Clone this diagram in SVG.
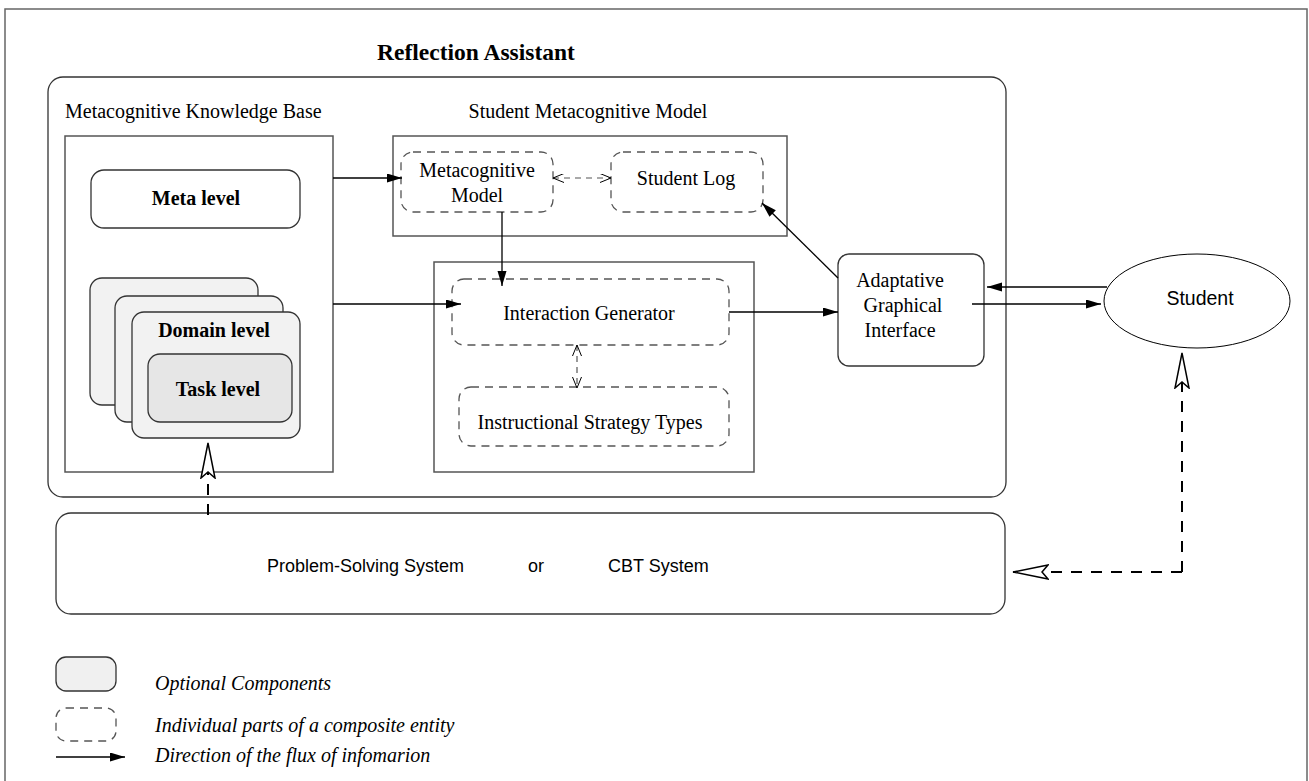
<svg xmlns="http://www.w3.org/2000/svg" width="1309" height="781" viewBox="0 0 1309 781">
<style>
.serif{font-family:"Liberation Serif","Times New Roman",serif;font-size:20px;fill:#000}
.bold{font-weight:bold}
.ital{font-style:italic}
.sans{font-family:"Liberation Sans",Arial,sans-serif;font-size:18px;fill:#000}
.box{fill:#fff;stroke:#555;stroke-width:1.5}
.rbox{fill:#fff;stroke:#333;stroke-width:1.3}
.opt{fill:#f2f2f2;stroke:#333;stroke-width:1.3}
.dbox{fill:none;stroke:#555;stroke-width:1.3;stroke-dasharray:8 6}
.arr{fill:none;stroke:#000;stroke-width:1.3}
.darr{fill:none;stroke:#555;stroke-width:1.2;stroke-dasharray:6 5}
.bigd{fill:none;stroke:#000;stroke-width:2;stroke-dasharray:11 9}
</style>
<defs>
<marker id="fa" markerUnits="userSpaceOnUse" markerWidth="16" markerHeight="10" refX="15" refY="4.5" orient="auto">
<path d="M0,0 L15,4.5 L0,9 z" fill="#000"/>
</marker>
<marker id="va" markerUnits="userSpaceOnUse" markerWidth="13" markerHeight="11" refX="11" refY="4.5" orient="auto">
<path d="M0,0 L11,4.5 L0,9" fill="none" stroke="#000" stroke-width="1"/>
</marker>
<marker id="vs" markerUnits="userSpaceOnUse" markerWidth="13" markerHeight="11" refX="0" refY="4.5" orient="auto">
<path d="M11,0 L0,4.5 L11,9" fill="none" stroke="#000" stroke-width="1"/>
</marker>
<marker id="ha" markerUnits="userSpaceOnUse" markerWidth="40" markerHeight="18" refX="36" refY="8" orient="auto">
<path d="M36,8 L1,1 L7,8 L1,15 z" fill="#fff" stroke="#000" stroke-width="1.5" stroke-linejoin="miter"/>
</marker>
</defs>
<rect x="5" y="9" width="1302" height="800" fill="#fff" stroke="#666" stroke-width="1.5"/>

<g id="reflection-assistant">
<rect x="48" y="77" width="958" height="420" rx="15" class="rbox"/>
<text x="476" y="60" text-anchor="middle" class="serif bold" style="font-size:23.5px">Reflection Assistant</text>
</g>

<g id="knowledge-base">
<text x="65" y="118" class="serif">Metacognitive Knowledge Base</text>
<rect x="65" y="136" width="268" height="336" class="box"/>
</g>

<g id="meta-level">
<rect x="91" y="170" width="209" height="58" rx="13" class="rbox"/>
<text x="196" y="205" text-anchor="middle" class="serif bold">Meta level</text>
</g>

<g id="domain-level">
<rect x="90" y="278" width="168" height="127" rx="12" class="opt"/>
<rect x="115" y="296" width="168" height="126" rx="12" class="opt"/>
<rect x="132" y="312" width="168" height="126" rx="12" class="opt"/>
<text x="214" y="337" text-anchor="middle" class="serif bold">Domain level</text>
</g>

<g id="task-level">
<rect x="148" y="354" width="144" height="68" rx="12" fill="#e6e6e6" stroke="#333" stroke-width="1.3"/>
<text x="218" y="396" text-anchor="middle" class="serif bold">Task level</text>
</g>

<g id="student-model">
<text x="588" y="118" text-anchor="middle" class="serif">Student Metacognitive Model</text>
<rect x="393" y="136" width="394" height="100" class="box"/>
</g>

<g id="metacognitive-model">
<rect x="401" y="152" width="152" height="60" rx="12" class="dbox"/>
<text x="477" y="177" text-anchor="middle" class="serif">Metacognitive</text>
<text x="477" y="202" text-anchor="middle" class="serif">Model</text>
</g>

<g id="student-log">
<rect x="611" y="152" width="152" height="60" rx="12" class="dbox"/>
<text x="686" y="185" text-anchor="middle" class="serif">Student Log</text>
</g>

<g id="generator-box">
<rect x="434" y="262" width="320" height="210" class="box"/>
</g>

<g id="interaction-generator">
<rect x="452" y="279" width="277" height="66" rx="12" class="dbox"/>
<text x="589" y="320" text-anchor="middle" class="serif">Interaction Generator</text>
</g>

<g id="strategy-types">
<rect x="459" y="387" width="270" height="59" rx="12" class="dbox"/>
<text x="590" y="429" text-anchor="middle" class="serif">Instructional Strategy Types</text>
</g>

<g id="interface">
<rect x="838" y="254" width="146" height="112" rx="11" class="rbox"/>
<text x="900" y="287" text-anchor="middle" class="serif">Adaptative</text>
<text x="903" y="312" text-anchor="middle" class="serif">Graphical</text>
<text x="900" y="337" text-anchor="middle" class="serif">Interface</text>
</g>

<g id="student">
<ellipse cx="1197" cy="301" rx="93" ry="47" fill="#fff" stroke="#000" stroke-width="1"/>
<text x="1200" y="305" text-anchor="middle" class="sans" style="font-size:19.5px">Student</text>
</g>

<g id="problem-solving">
<rect x="56" y="513" width="949" height="101" rx="15" class="rbox"/>
<text x="267" y="572" class="sans">Problem-Solving System</text>
<text x="528" y="572" class="sans">or</text>
<text x="608" y="572" class="sans">CBT System</text>
</g>

<g id="connectors">
<line x1="333" y1="178" x2="402" y2="178" class="arr" marker-end="url(#fa)"/>
<line x1="333" y1="304" x2="461" y2="304" class="arr" marker-end="url(#fa)"/>
<line x1="502" y1="212" x2="502" y2="286" class="arr" marker-end="url(#fa)"/>
<line x1="553" y1="178" x2="611" y2="178" class="darr" marker-start="url(#vs)" marker-end="url(#va)"/>
<line x1="577" y1="345" x2="577" y2="388" class="darr" marker-start="url(#vs)" marker-end="url(#va)"/>
<line x1="729" y1="312" x2="838" y2="312" class="arr" marker-end="url(#fa)"/>
<line x1="838" y1="278" x2="762" y2="203" class="arr" marker-end="url(#fa)"/>
<line x1="1107" y1="287" x2="987" y2="287" class="arr" marker-end="url(#fa)"/>
<line x1="972" y1="304" x2="1101" y2="304" class="arr" marker-end="url(#fa)"/>
<line x1="208" y1="515" x2="208" y2="443" class="bigd" marker-end="url(#ha)"/>
<path d="M1182,572 L1182,353" class="bigd" marker-end="url(#ha)"/>
<path d="M1182,572 L1013,572" class="bigd" marker-end="url(#ha)"/>
</g>

<g id="legend">
<rect x="56" y="657" width="60" height="34" rx="10" fill="#f0f0f0" stroke="#333" stroke-width="1.3"/>
<text x="155" y="690" class="serif ital">Optional Components</text>
<rect x="56" y="708" width="60" height="33" rx="10" class="dbox"/>
<text x="155" y="732" class="serif ital">Individual parts of a composite entity</text>
<line x1="56" y1="757" x2="125" y2="757" class="arr" marker-end="url(#fa)"/>
<text x="155" y="762" class="serif ital">Direction of the flux of infomarion</text>
</g>
</svg>
